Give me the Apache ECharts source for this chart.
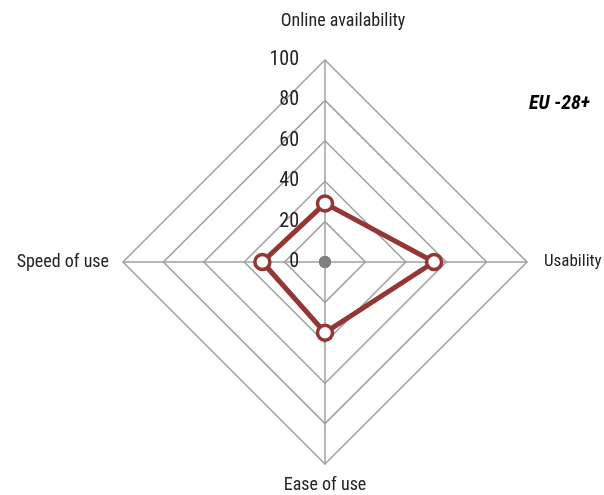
<!DOCTYPE html>
<html><head><meta charset="utf-8">
<script src="https://cdn.jsdelivr.net/npm/echarts@6/dist/echarts.min.js"></script>
<style>html,body{margin:0;padding:0;background:#fff}#c{width:604px;height:495px}</style>
</head><body><div id="c"></div>
<script>
const indicators = ['Online availability', 'Speed of use', 'Ease of use', 'Usability'];
const values = [29, 31, 35, 54];
const centerValues = [0, 0, 0, 0];
const maxValue = 100;
const titleText = 'EU -28+';
const FONT = '"Liberation Sans Narrow", "Roboto Condensed", "DejaVu Sans Condensed", sans-serif';
const nameGaps = [30, 14, 12, 17];

const chart = echarts.init(document.getElementById('c'));
chart.setOption({
  backgroundColor: '#fff',
  animation: false,
  title: { text: titleText, right: 9, top: 89, textStyle: { fontFamily: FONT, fontStyle: 'italic', fontWeight: 'bold', fontSize: 20, color: '#000' } },
  radar: {
    center: [325, 262],
    radius: 202,
    startAngle: 90,
    shape: 'polygon',
    splitNumber: 5,
    nameGap: 30,
    axisName: {
      color: '#222', fontFamily: FONT, fontSize: 18,
      formatter: function (name) {
        if (name === indicators[0]) return '{t|' + name + '}';
        if (name === indicators[3]) return '{u|' + name + '}';
        return name;
      },
      rich: {
        t: { color: '#222', fontFamily: FONT, fontSize: 18, padding: [0, 0, 0, 36] },
        u: { color: '#222', fontFamily: FONT, fontSize: 17 }
      }
    },
    indicator: indicators.map((n, i) => ({ name: n, max: maxValue, min: 0, nameGap: nameGaps[i], axisLabel: { show: i === 0 } })),
    axisLine: { lineStyle: { color: '#a0a0a0', width: 1.5 } },
    splitLine: { lineStyle: { color: '#a0a0a0', width: 1.5 } },
    splitArea: { show: false },
    axisTick: { show: false },
    axisLabel: { show: true, color: '#222', fontFamily: FONT, fontSize: 20, margin: 26 }
  },
  series: [{
    type: 'radar',
    data: [
      { value: centerValues, symbol: 'circle', symbolSize: 12, itemStyle: { color: '#808080' }, lineStyle: { width: 0, opacity: 0 } },
      { value: values, symbol: 'circle', symbolSize: 15, itemStyle: { color: '#fff', borderColor: '#943634', borderWidth: 3.5 }, lineStyle: { color: '#943634', width: 5 } }
    ]
  }]
});
</script></body></html>
